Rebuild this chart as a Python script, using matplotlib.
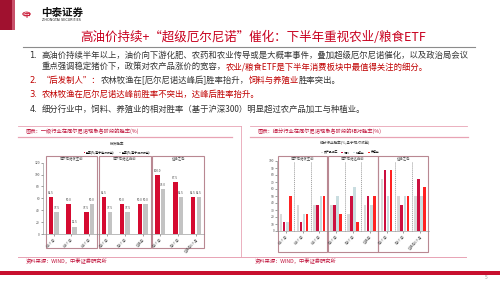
import matplotlib
matplotlib.use('Agg')
import matplotlib.pyplot as plt
from matplotlib.patches import Rectangle, Circle
from matplotlib.lines import Line2D
import matplotlib.transforms as mtransforms
import numpy as np

plt.rcParams['font.family'] = ['Noto Sans CJK SC', 'DejaVu Sans']

# ---------------- data ----------------
groups = ['厄尔尼诺发生前', '厄尔尼诺达峰前', '达峰之后']
cats = ['前6个月', '前3个月', '前1个月', '后1个月', '后3个月', '达峰月',
        '后1个月', '后3个月', '达峰后6个月']
left_series = ['胜率(%,基于绝对收益)', '胜率(%,基于相对收益)']
abs_win = [62.5, 50.0, 37.5, 62.5, 50.0, 50.0, 100.0, 87.5, 62.5]
rel_win = [37.5, 12.5, 50.0, 37.5, 37.5, 50.0, 75.0, 62.5, 62.5]
sub_series = ['农产品加工', '饲料', '种植业', '养殖业']
proc = [25, 37.5, 37.5, 37.5, 25, 37.5, 75, 50, 50]
feed = [12.5, 12.5, 37.5, 37.5, 50, 50, 87.5, 37.5, 75]
plant = [12.5, 25, 50, 50, 62.5, 37.5, 50, 50, 50]
breed = [50, 25, 50, 25, 12.5, 50, 87.5, 50, 62.5]
left_yticks = [0, 20, 40, 60, 80, 100, 120]
right_yticks = [0, 10, 20, 30, 40, 50, 60, 70, 80, 90, 100]

W, H = 500, 281
fig = plt.figure(figsize=(5, 2.81), dpi=100)
renderer = fig.canvas.get_renderer()


def fx(p):
    return p / W


def fy(p):
    return 1 - p / H


def hline(x0, x1, y, color, lw, ls='-'):
    fig.add_artist(Line2D([fx(x0), fx(x1)], [fy(y), fy(y)], transform=fig.transFigure,
                          color=color, lw=lw, ls=ls))


def vline(x, y0, y1, color, lw, ls='-'):
    fig.add_artist(Line2D([fx(x), fx(x)], [fy(y0), fy(y1)], transform=fig.transFigure,
                          color=color, lw=lw, ls=ls))


def seq_text(x_px, y_px, segments, size):
    x = x_px
    for s, color, weight in segments:
        t = fig.text(fx(x), fy(y_px), s, color=color, fontsize=size, weight=weight,
                     va='center', ha='left')
        bb = t.get_window_extent(renderer)
        x = bb.x1


RED = '#C00000'
DARK = '#333333'
PINK = '#E8A3B4'
BOXC = '#B98892'

# ---------------- header ----------------
fig.add_artist(Rectangle((0, fy(30)), fx(12), 30 / H, transform=fig.transFigure,
                         color='#A0112F', lw=0))
fig.add_artist(Rectangle((fx(12), fy(30)), fx(3), 30 / H, transform=fig.transFigure,
                         color='#C9506A', lw=0))
# logo
fig.add_artist(Circle((fx(26.5), fy(14)), 4.2 / W, transform=fig.transFigure,
                      color='#C8102E', lw=0))
fig.add_artist(Circle((fx(26.5), fy(14)), 3.0 / W, transform=fig.transFigure,
                      color='white', lw=0))
fig.text(fx(26.5), fy(14), '中', color='#C8102E', fontsize=4.5, weight='bold',
         ha='center', va='center')
fig.text(fx(41.5), fy(13), '中泰证券', color='#111111', fontsize=7.6, weight='bold',
         ha='left', va='center')
fig.text(fx(42), fy(20), 'ZHONGTAI SECURITIES', color='#222222', fontsize=2.4,
         ha='left', va='center', family='DejaVu Sans')

# title
fig.text(fx(253), fy(37), '高油价持续+“超级厄尔尼诺”催化：下半年重视农业/粮食ETF',
         color='#C8001E', fontsize=9, ha='center', va='center')
hline(23, 475, 47.3, '#8C8C8C', 0.8)

# ---------------- bullets ----------------
BS = 6.0
for num, y, c in [('1.', 55.7, DARK), ('2.', 80.7, RED), ('3.', 94.3, RED), ('4.', 109.3, DARK)]:
    fig.text(fx(29.3), fy(y), num, color=c, fontsize=BS, ha='left', va='center',
             family='DejaVu Sans')
seq_text(41.7, 55.7, [('高油价持续半年以上，油价向下游化肥、农药和农业传导或是大概率事件，叠加超级厄尔尼诺催化，以及政治局会议',
                       DARK, 'normal')], BS)
seq_text(41.7, 66.7, [('重点强调稳定猪价下，政策对农产品涨价的宽容，', DARK, 'normal'),
                      ('农业/粮食ETF是下半年消费板块中最值得关注的细分。', RED, 'normal')], BS)
seq_text(41.7, 80.7, [('“后发制人”：', RED, 'normal'),
                      ('农林牧渔在[厄尔尼诺达峰后]胜率抬升，', DARK, 'normal'),
                      ('饲料与养殖业', RED, 'normal'),
                      ('胜率突出。', DARK, 'normal')], BS)
seq_text(41.7, 94.3, [('农林牧渔在厄尔尼诺达峰前胜率不突出，达峰后胜率抬升。', RED, 'normal')], BS)
seq_text(41.7, 109.3, [('细分行业中，饲料、养殖业的相对胜率（基于沪深300）明显超过农产品加工与种植业。',
                        DARK, 'normal')], BS)

# ---------------- panel frames ----------------
hline(18, 241, 126, PINK, 0.6)
hline(250, 467, 126, PINK, 0.6)
vline(241, 126, 257, PINK, 0.6)
hline(18, 232, 137, PINK, 0.9)
hline(250, 468, 137, PINK, 0.9)
hline(18, 466, 256.7, PINK, 0.7)
fig.text(fx(25), fy(130.8), '图表：一级行业在厄尔尼诺现象各阶段的胜率(%)', color='#C0143C',
         fontsize=3.8, style='italic', ha='left', va='center')
fig.text(fx(257), fy(130.8), '图表：细分行业在厄尔尼诺现象各阶段的相对胜率(%)', color='#C0143C',
         fontsize=3.8, style='italic', ha='left', va='center')
fig.text(fx(26), fy(261.7), '资料来源：WIND，中泰证券研究所', color='#C0143C', fontsize=3.8,
         style='italic', ha='left', va='center')
fig.text(fx(255), fy(261.7), '资料来源：WIND，中泰证券研究所', color='#C0143C', fontsize=3.8,
         style='italic', ha='left', va='center')

# footer
fig.add_artist(Rectangle((0, fy(275.3)), 1, 4.6 / H, transform=fig.transFigure,
                         color='#C8102E', lw=0))
fig.text(fx(486), fy(277.5), '5', color='#999999', fontsize=3.5, ha='center', va='center')


def ax_rect(x0, y0, x1, y1):
    return [x0 / W, 1 - y1 / H, (x1 - x0) / W, (y1 - y0) / H]


def style_axes(ax):
    for s in ['top', 'right']:
        ax.spines[s].set_visible(False)
    for s in ['left', 'bottom']:
        ax.spines[s].set_color('#888888')
        ax.spines[s].set_linewidth(0.4)
    ax.tick_params(axis='y', labelsize=2.4, length=1.2, width=0.4, colors='#555555', pad=1)
    ax.tick_params(axis='x', labelsize=2.4, length=1.2, width=0.4, colors='#555555', pad=1)


# ---------------- left chart ----------------
x = np.arange(len(cats))
axL = fig.add_axes(ax_rect(43, 162.7, 204, 234))
b1 = axL.bar(x - 0.16, abs_win, 0.25, color='#D50A30', label=left_series[0])
b2 = axL.bar(x + 0.16, rel_win, 0.25, color='#C3C3C3', label=left_series[1])
axL.bar_label(b1, fmt='%.1f', fontsize=2.2, padding=1.5, color='#444444')
axL.bar_label(b2, fmt='%.1f', fontsize=2.2, padding=1.5, color='#444444')
axL.set_xlim(-0.6, 8.45)
axL.set_ylim(0, 120)
axL.set_yticks(left_yticks)
axL.set_xticks(x)
axL.set_xticklabels(cats, rotation=45, ha='right', rotation_mode='anchor')
style_axes(axL)
blendL = mtransforms.blended_transform_factory(axL.transData, fig.transFigure)
for gi, g in enumerate(groups):
    g0 = gi * 3 - 0.45
    g1 = gi * 3 + 2.45
    axL.add_patch(Rectangle((g0, fy(248)), g1 - g0, (248 - 156) / H, transform=blendL,
                            fill=False, ec=BOXC, lw=0.8, clip_on=False))
    axL.text(gi * 3 + 1, fy(159.5), g, transform=blendL, fontsize=2.4, ha='center',
             va='center', color='#444444')
fig.text(fx(117), fy(143.5), '板块胜率', fontsize=2.6, ha='center', va='center', color='#444444')
fig.legend(handles=[b1, b2], loc='center', bbox_to_anchor=(fx(117), fy(152.5)), ncol=2,
           fontsize=2.1, frameon=False, handlelength=0.6, handleheight=0.6,
           handletextpad=0.3, columnspacing=1.5, borderpad=0)

# ---------------- right chart ----------------
axR = fig.add_axes(ax_rect(277.3, 161, 428.5, 231))
cols = ['#D9D9D9', '#CC1040', '#C9DDE0', '#FF2222']
offs = [-0.27, -0.09, 0.09, 0.27]
handles = []
for vals, c, o, lab in zip([proc, feed, plant, breed], cols, offs, sub_series):
    handles.append(axR.bar(x + o, vals, 0.155, color=c, label=lab))
axR.set_xlim(-0.5, 8.5)
axR.set_ylim(0, 100)
axR.set_yticks(right_yticks)
axR.set_xticks(x)
axR.set_xticklabels(cats, rotation=45, ha='right', rotation_mode='anchor')
style_axes(axR)
blendR = mtransforms.blended_transform_factory(axR.transData, fig.transFigure)
for gi, g in enumerate(groups):
    g0 = gi * 3 - 0.48
    g1 = gi * 3 + 2.48
    axR.add_patch(Rectangle((g0, fy(252)), g1 - g0, (252 - 156) / H, transform=blendR,
                            fill=False, ec=BOXC, lw=0.8, clip_on=False))
    for xv in (gi * 3 + 0.5, gi * 3 + 1.5):
        axR.add_line(Line2D([xv, xv], [fy(161.5), fy(231)], transform=blendR,
                            color='#666666', lw=0.4, ls=(0, (2, 1.5)), clip_on=False))
    axR.text(gi * 3 + 1, fy(159.3), g, transform=blendR, fontsize=2.4, ha='center',
             va='center', color='#444444')
fig.text(fx(345), fy(143.5), '细分行业胜率(%,基于相对收益)', fontsize=2.6, ha='center',
         va='center', color='#444444')
fig.legend(handles=handles, loc='center', bbox_to_anchor=(fx(350), fy(152.5)), ncol=4,
           fontsize=2.1, frameon=False, handlelength=0.6, handleheight=0.6,
           handletextpad=0.3, columnspacing=1.2, borderpad=0)

fig.savefig('out.png', dpi=100)
